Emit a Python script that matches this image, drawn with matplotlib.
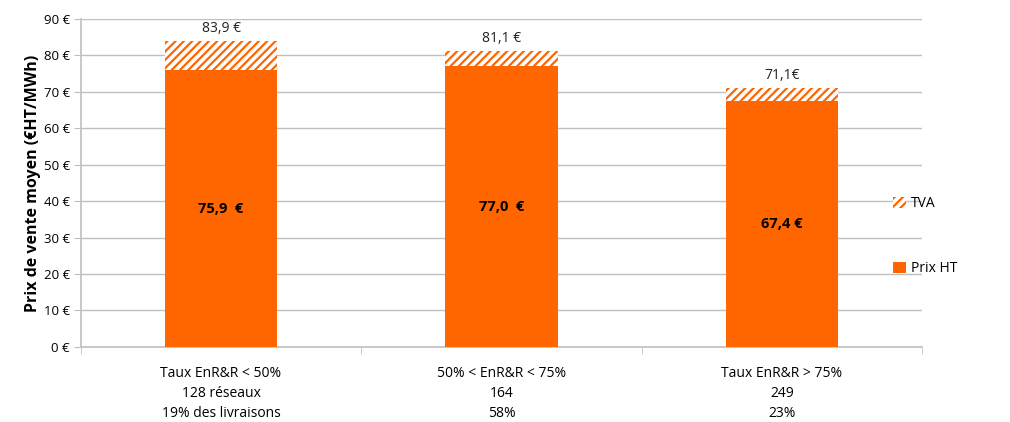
import numpy as np
import matplotlib.pyplot as plt
from matplotlib.patches import Patch

# Données
categories = ["Taux EnR&R < 50%\n128 réseaux\n19% des livraisons",
              "50% < EnR&R < 75%\n164\n58%",
              "Taux EnR&R > 75%\n249\n23%"]
prix_ht = [75.9, 77.0, 67.4]
total = [83.9, 81.1, 71.1]
labels_ht = ["75,9  €", "77,0  €", "67,4 €"]
labels_total = ["83,9 €", "81,1 €", "71,1€"]

orange = '#FF6600'
grey = '#BFBFBF'
plt.rcParams['font.family'] = ['Open Sans', 'DejaVu Sans']
plt.rcParams['hatch.color'] = orange
plt.rcParams['hatch.linewidth'] = 1.6

fig = plt.figure(figsize=(10.1, 4.22), dpi=100)
ax = fig.add_axes([0.080, 0.178, 0.833, 0.777])

x = np.arange(len(categories))
tva = np.array(total) - np.array(prix_ht)

ax.bar(x, prix_ht, width=0.4, color=orange, zorder=3)
ax.bar(x, tva, width=0.4, bottom=prix_ht, color='white', edgecolor=orange,
       hatch='////', linewidth=0, zorder=3)

for i in range(len(x)):
    ax.text(x[i], prix_ht[i] / 2, labels_ht[i], ha='center', va='center',
            fontsize=10.5, fontweight='bold', color='black', zorder=4)
    ax.text(x[i], total[i] + 1.4, labels_total[i], ha='center', va='bottom',
            fontsize=10, color='#222222', zorder=4)

ax.set_xlim(-0.5, 2.5)
ax.set_ylim(0, 90)
ax.set_yticks(np.arange(0, 91, 10))
ax.set_yticklabels([f"{v} €" for v in range(0, 91, 10)], fontsize=9.5)
ax.set_xticks(x)
ax.set_xticklabels(categories, fontsize=10, linespacing=1.42)
ax.set_xticks([-0.5, 0.5, 1.5, 2.5], minor=True)
ax.tick_params(axis='x', which='major', length=0, pad=14)
ax.tick_params(axis='x', which='minor', length=5, color=grey, direction='out')
ax.tick_params(axis='y', length=5, color=grey, direction='out', pad=3)
ax.yaxis.grid(True, color=grey, linewidth=1, zorder=0)
ax.set_axisbelow(True)
for s in ['top', 'right']:
    ax.spines[s].set_visible(False)
for s in ['left', 'bottom']:
    ax.spines[s].set_color(grey)
    ax.spines[s].set_linewidth(1.2)

ax.set_ylabel("Prix de vente moyen (€HT/MWh)", fontsize=11.5, fontweight='bold',
              labelpad=2)

handles = [Patch(facecolor='white', edgecolor=orange, hatch='////', linewidth=0, label='TVA'),
           Patch(facecolor=orange, label='Prix HT')]
fig.legend(handles=handles, loc='center left', bbox_to_anchor=(0.872, 0.44),
           frameon=False, fontsize=10, labelspacing=3.6, handlelength=0.9,
           handleheight=0.9, handletextpad=0.4)

fig.savefig('out.png', dpi=100)
